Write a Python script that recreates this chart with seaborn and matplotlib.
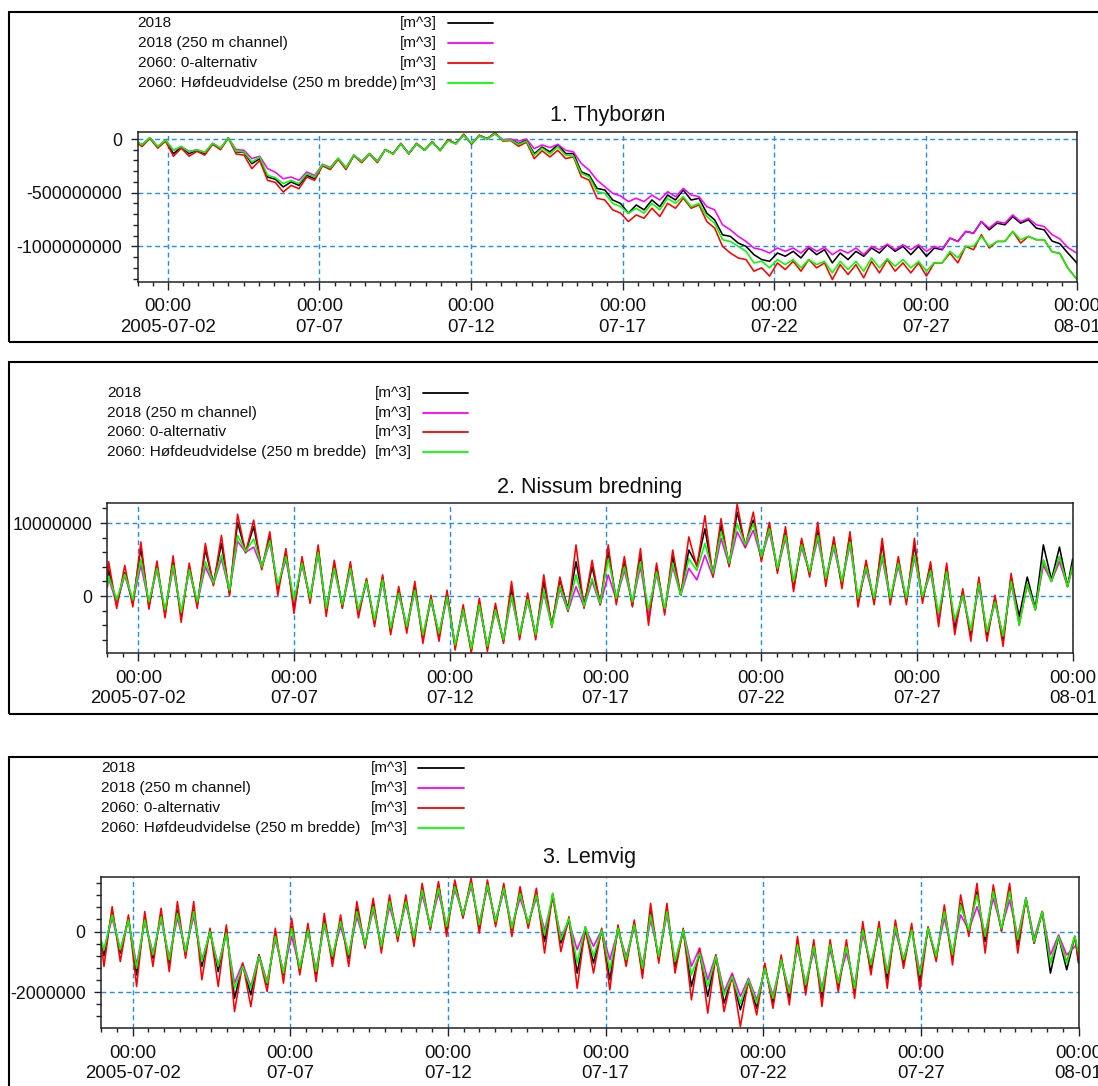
import numpy as np
import pandas as pd
import matplotlib
matplotlib.use("Agg")
import matplotlib.pyplot as plt
import matplotlib.dates as mdates
from matplotlib.lines import Line2D
from matplotlib.patches import Rectangle
from matplotlib.ticker import FixedLocator, FixedFormatter, MultipleLocator, FuncFormatter
import seaborn as sns

# ---------------------------------------------------------------------------
# Cumulative discharge volume [m^3] through three cross sections, July 2005.
# Each series: value at 07-01 00:00, then successive tidal extremes
# (spaced half a tidal period apart), then value at 08-01 00:00.
# Units below: million m^3.
# ---------------------------------------------------------------------------
SERIES_NAMES = ["2018", "2018 (250 m channel)", "2060: 0-alternativ",
                "2060: Høfdeudvidelse (250 m bredde)"]
SERIES_COLORS = ["#000000", "#ff00ff", "#ff0000", "#00ff00"]

# 1. Thyborøn (first extreme is a low, at 0.15 d)
thy_first = 0.15
thy_2018 = [-28,
    -59, 12, -75, -12, -137, -75, -137, -105, -137, -43,
    -90, 9, -121, -125, -230, -183, -354, -375, -447, -400,
    -432, -338, -370, -245, -276, -183, -276, -152, -214, -137,
    -214, -99, -137, -43, -137, -43, -105, -28, -105, -12,
    -43, 40, -43, 34, 3, 56, -12, -6, -43, -12,
    -137, -75, -120, -52, -136, -136, -306, -336, -460, -475,
    -568, -600, -691, -614, -660, -568, -630, -522, -568, -475,
    -568, -552, -691, -753, -892, -907, -969, -1000, -1077, -1123,
    -1139, -1062, -1092, -1046, -1108, -1015, -1077, -1031, -1154, -1062,
    -1123, -1046, -1092, -1015, -1062, -985, -1046, -1000, -1077, -1000,
    -1092, -1015, -1031, -923, -954, -861, -877, -769, -846, -784,
    -799, -722, -784, -753, -830, -846, -950, -975, -1060, -1140,
    -1165]
thy_2018_250 = [-28,
    -55, 12, -70, -10, -105, -70, -115, -100, -125, -40,
    -85, 9, -99, -105, -183, -160, -276, -310, -370, -354,
    -385, -307, -340, -235, -265, -180, -265, -150, -205, -135,
    -205, -99, -135, -45, -130, -45, -100, -30, -100, -15,
    -40, 35, -40, 25, 5, 45, -5, 0, -20, 0,
    -90, -55, -80, -50, -105, -120, -228, -290, -383, -444,
    -506, -530, -583, -552, -583, -522, -568, -491, -537, -460,
    -522, -537, -630, -660, -799, -846, -907, -954, -1015, -1031,
    -1062, -1015, -1046, -1015, -1062, -1000, -1046, -1010, -1077, -1031,
    -1062, -1015, -1077, -1000, -1031, -979, -1031, -985, -1031, -985,
    -1046, -1000, -1025, -923, -954, -861, -877, -769, -830, -769,
    -784, -707, -770, -738, -799, -815, -890, -930, -1010, -1055,
    -1065]
thy_2060_0 = [-40,
    -70, 5, -85, -20, -161, -85, -160, -115, -150, -50,
    -100, 9, -140, -150, -276, -200, -385, -405, -494, -432,
    -463, -354, -385, -250, -285, -190, -285, -155, -220, -140,
    -220, -100, -140, -40, -140, -40, -105, -25, -110, -5,
    -45, 45, -50, 35, 0, 60, -20, -15, -68, -30,
    -183, -110, -167, -105, -182, -167, -352, -383, -552, -568,
    -660, -690, -769, -707, -738, -645, -722, -599, -645, -552,
    -645, -614, -769, -830, -1000, -1062, -1108, -1123, -1231, -1200,
    -1277, -1154, -1216, -1139, -1231, -1123, -1200, -1154, -1309, -1170,
    -1262, -1170, -1293, -1139, -1247, -1123, -1231, -1154, -1247, -1154,
    -1277, -1154, -1154, -1062, -1154, -1000, -1031, -892, -1015, -954,
    -954, -861, -969, -907, -938, -938, -1050, -1065, -1200, -1290,
    -1310]
thy_2060_hofde = [-28,
    -55, 12, -70, -10, -105, -70, -120, -100, -125, -40,
    -85, 9, -115, -120, -214, -168, -338, -360, -416, -385,
    -416, -323, -354, -240, -270, -180, -270, -150, -210, -135,
    -210, -100, -140, -45, -135, -45, -105, -30, -105, -15,
    -45, 35, -40, 30, 0, 50, -12, -10, -50, -20,
    -152, -85, -140, -74, -151, -160, -321, -352, -491, -506,
    -599, -630, -691, -645, -691, -599, -660, -552, -599, -537,
    -630, -599, -722, -784, -938, -954, -1000, -1046, -1154, -1139,
    -1200, -1123, -1170, -1123, -1200, -1123, -1170, -1139, -1247, -1139,
    -1216, -1139, -1231, -1108, -1200, -1115, -1185, -1123, -1200, -1139,
    -1231, -1150, -1154, -1046, -1108, -1000, -1000, -907, -1000, -954,
    -954, -861, -938, -907, -938, -938, -1050, -1065, -1200, -1290,
    -1310]

# 2. Nissum bredning (first extreme is a high, at 0.043 d)
nis_first = 0.043
nis_2018 = [2.0,
    3.6, -1.2, 3.2, -1.0, 6.6, -1.4, 4.2, -2.5, 4.9, -2.8,
    4.0, -1.2, 6.4, 1.7, 7.2, 0.3, 10.1, 6.0, 9.5, 3.8,
    8.1, 0.8, 6.0, -1.7, 4.9, -0.5, 6.5, -2.1, 4.5, -1.5,
    4.2, -2.4, 2.2, -3.7, 2.6, -4.9, 0.8, -4.4, 1.5, -5.8,
    -0.3, -5.5, 0.4, -6.9, -1.7, -7.4, -0.8, -7.1, -1.5, -6.2,
    1.0, -5.5, -0.1, -5.5, 2.0, -4.0, 2.2, -1.7, 4.7, -1.2,
    4.0, -1.0, 6.0, -0.5, 4.7, -1.3, 5.6, -3.3, 4.0, -2.1,
    5.4, 0.1, 6.3, 4.2, 9.2, 2.9, 9.7, 4.2, 11.5, 6.9,
    10.4, 5.0, 9.7, 3.5, 9.0, 1.0, 7.6, 3.0, 9.0, 2.0,
    7.6, 1.5, 8.3, -1.0, 4.5, -0.8, 7.2, -0.8, 4.9, -0.8,
    7.0, -0.5, 4.2, -3.5, 4.0, -4.4, 0.6, -5.5, 2.2, -5.5,
    -0.3, -6.2, 2.6, -2.8, 2.6, -1.7, 7.0, 2.2, 6.7, 1.3,
    5.1]
nis_2018_250 = [1.2,
    2.4, -1.0, 2.8, -0.8, 4.2, -1.0, 3.6, -2.2, 3.8, -2.4,
    3.4, -1.0, 4.0, 1.6, 5.1, 0.6, 7.5, 6.0, 6.7, 3.9,
    7.3, 1.3, 5.0, -0.9, 4.2, -0.4, 5.7, -1.9, 3.6, -1.3,
    3.5, -2.2, 1.8, -3.6, 2.0, -4.6, 0.2, -4.3, 0.6, -5.6,
    -0.7, -5.3, -0.3, -6.8, -2.1, -7.3, -1.4, -7.0, -2.1, -6.0,
    -0.2, -5.3, -0.7, -5.3, 0.4, -4.1, 1.0, -2.1, 1.3, -1.5,
    2.0, -1.2, 2.9, -0.5, 3.5, -1.0, 4.0, -2.6, 3.0, -2.0,
    4.0, 0.1, 3.8, 2.2, 5.6, 2.6, 7.9, 4.2, 8.8, 6.6,
    9.0, 5.2, 8.8, 3.6, 7.9, 1.9, 6.6, 3.2, 7.8, 2.3,
    6.6, 1.8, 7.0, -0.5, 3.6, -0.6, 5.2, -0.6, 4.1, -0.6,
    5.3, -0.3, 3.2, -2.9, 3.0, -3.6, -0.1, -4.8, 1.3, -4.9,
    -1.0, -5.4, 1.6, -3.6, 1.5, -1.9, 4.2, 2.0, 4.7, 1.3,
    4.0]
nis_2060_0 = [2.5,
    4.7, -1.7, 4.2, -1.5, 7.4, -1.8, 4.8, -3.0, 5.5, -3.6,
    4.5, -1.7, 7.2, 1.4, 8.3, 0.0, 11.2, 5.9, 10.4, 3.6,
    8.8, 0.1, 6.5, -2.4, 5.4, -1.0, 7.0, -2.8, 4.9, -1.7,
    4.7, -3.0, 2.4, -4.2, 2.9, -5.3, 1.3, -5.1, 2.0, -6.5,
    0.1, -6.2, 0.8, -7.4, -1.2, -7.8, -0.3, -7.6, -1.0, -6.5,
    2.0, -6.0, 0.4, -6.0, 2.9, -4.3, 2.6, -2.1, 7.0, -1.7,
    4.9, -1.2, 7.0, -1.2, 5.4, -1.5, 6.5, -4.0, 4.5, -2.6,
    6.3, 0.1, 8.1, 4.0, 11.0, 2.6, 10.6, 4.0, 12.6, 6.7,
    11.5, 4.7, 10.1, 3.1, 9.5, 0.6, 7.9, 2.6, 10.1, 1.3,
    8.1, 1.0, 8.8, -1.5, 4.9, -1.2, 7.9, -1.2, 5.4, -1.2,
    7.9, -1.0, 4.7, -4.2, 4.5, -5.3, 1.0, -6.2, 2.6, -6.2,
    0.1, -6.9, 3.1, -4.0, 1.7, -1.9, 4.9, 2.0, 5.4, 1.3,
    4.2]
nis_2060_hofde = [1.3,
    2.7, -0.5, 3.0, -0.5, 5.0, -0.8, 3.8, -1.9, 4.2, -2.2,
    3.6, -0.8, 4.7, 1.8, 5.6, 0.8, 8.3, 6.1, 7.8, 4.0,
    7.6, 1.5, 5.4, -0.5, 4.5, -0.3, 6.0, -1.7, 3.8, -1.2,
    3.8, -1.9, 2.0, -3.3, 2.2, -4.4, 0.4, -4.2, 0.8, -5.3,
    -0.5, -5.1, -0.1, -6.7, -1.9, -7.2, -1.2, -6.9, -1.9, -6.0,
    0.1, -5.3, -0.5, -5.3, 0.8, -4.2, 1.3, -1.9, 2.9, -1.4,
    2.4, -1.0, 5.1, -0.3, 4.0, -0.8, 4.7, -1.9, 3.3, -1.7,
    4.5, 0.1, 5.1, 3.5, 7.2, 3.1, 8.8, 4.5, 9.9, 7.0,
    9.9, 5.4, 9.2, 3.8, 8.3, 2.0, 7.0, 3.3, 8.3, 2.4,
    7.0, 2.0, 7.4, -0.3, 4.0, -0.3, 5.6, -0.3, 4.5, -0.3,
    5.6, -0.1, 3.5, -2.4, 3.3, -3.3, 0.1, -4.7, 1.7, -4.9,
    -0.8, -5.5, 2.0, -4.0, 1.7, -1.9, 4.9, 2.0, 5.4, 1.3,
    4.2]

# 3. Lemvig (first extreme is a low, at 0.094 d)
lem_first = 0.094
lem_2018 = [-0.4, -0.8,
    0.66, -0.71, 0.44, -1.43, 0.44, -0.88, 0.55, -1.04, 0.71, -0.77,
    0.71, -1.15, 0.05, -1.32, 0.11, -2.2, -1.1, -2.09, -0.77, -1.76,
    -0.11, -1.43, 0.16, -1.32, 0.11, -1.43, 0.38, -0.93, 0.38, -0.88,
    0.77, -0.49, 0.93, -0.55, 1.04, -0.22, 1.04, -0.27, 1.43, 0.11,
    1.54, 0.05, 1.59, 0.49, 1.65, 0.11, 1.59, 0.27, 1.48, 0.05,
    1.32, 0.22, 1.26, -0.33, 1.21, -0.38, 0.38, -1.37, 0.05, -1.04,
    0.05, -1.59, 0.11, -0.99, 0.27, -1.37, 0.66, -0.93, 0.71, -1.15,
    0.05, -1.81, -0.71, -2.14, -0.82, -2.36, -1.48, -2.58, -1.65, -2.53,
    -1.15, -2.36, -0.88, -2.2, -0.38, -1.87, -0.44, -2.2, -0.38, -1.81,
    -0.44, -1.98, 0.11, -1.26, 0.16, -1.59, 0.22, -1.04, 0.11, -1.65,
    0.11, -0.88, 0.71, -0.88, 0.93, 0.0, 1.32, -0.33, 1.37, 0.05,
    1.37, -0.44, 1.1, -0.38, 0.66, -1.37, -0.16, -1.26,
    -0.16, -1.04]
lem_2018_250 = [-0.3, -0.6,
    0.44, -0.6, 0.38, -1.1, 0.33, -0.7, 0.4, -0.85, 0.44, -0.6,
    0.5, -0.93, -0.05, -1.1, -0.11, -1.70, -1.04, -1.81, -0.77, -1.65,
    -0.27, -1.32, -0.16, -1.2, 0.0, -1.25, 0.2, -0.8, 0.16, -0.75,
    0.49, -0.4, 0.71, -0.45, 0.82, -0.1, 0.9, -0.2, 1.21, 0.2,
    1.26, 0.2, 1.37, 0.6, 1.48, 0.3, 1.43, 0.38, 1.32, 0.15,
    1.1, 0.3, 1.1, 0.05, 1.1, -0.16, 0.33, -0.6, 0.11, -0.49,
    0.05, -0.93, 0.05, -0.82, 0.11, -1.1, 0.38, -0.8, 0.55, -0.99,
    0.05, -1.15, -0.55, -1.59, -0.77, -1.98, -1.37, -2.14, -1.54, -2.25,
    -1.26, -2.1, -0.99, -1.92, -0.55, -1.7, -0.66, -1.87, -0.6, -1.65,
    -0.71, -1.76, -0.11, -1.05, 0.0, -1.32, 0.0, -0.9, 0.05, -1.32,
    0.05, -0.8, 0.44, -0.71, 0.55, 0.05, 0.82, -0.05, 1.1, 0.11,
    1.04, -0.16, 1.1, -0.22, 0.66, -0.77, -0.11, -0.77,
    -0.49, -0.55]
lem_2060_0 = [-0.3, -1.15,
    0.82, -0.99, 0.55, -1.81, 0.66, -1.15, 0.77, -1.32, 0.99, -0.88,
    0.99, -1.59, 0.11, -1.81, 0.22, -2.64, -1.04, -2.47, -0.77, -1.98,
    0.11, -1.70, 0.44, -1.43, 0.27, -1.65, 0.6, -1.15, 0.55, -1.15,
    0.99, -0.55, 1.1, -0.71, 1.21, -0.33, 1.21, -0.49, 1.59, 0.05,
    1.65, -0.16, 1.70, 0.44, 1.76, -0.05, 1.70, 0.16, 1.59, -0.16,
    1.48, 0.11, 1.43, -0.71, 1.26, -0.66, 0.49, -1.87, 0.16, -1.37,
    0.11, -1.92, 0.22, -1.15, 0.38, -1.54, 0.93, -1.04, 0.93, -1.37,
    0.11, -2.25, -0.55, -2.69, -0.77, -2.64, -1.43, -3.13, -1.59, -2.75,
    -1.04, -2.53, -0.77, -2.42, -0.16, -2.09, -0.27, -2.47, -0.27, -1.98,
    -0.27, -2.2, 0.33, -1.43, 0.33, -1.87, 0.38, -1.21, 0.27, -1.92,
    0.16, -0.99, 0.88, -1.1, 1.21, -0.16, 1.59, -0.71, 1.54, 0.0,
    1.59, -0.71, 1.1, -0.38, 0.66, -1.04, -0.16, -1.0,
    -0.16, -0.95]
lem_2060_hofde = [-0.27, -0.6,
    0.55, -0.6, 0.38, -1.21, 0.38, -0.77, 0.49, -0.93, 0.6, -0.66,
    0.66, -0.99, 0.0, -1.15, -0.05, -1.87, -1.15, -1.87, -0.82, -1.70,
    -0.16, -1.37, 0.11, -1.21, 0.05, -1.32, 0.27, -0.82, 0.33, -0.77,
    0.66, -0.44, 0.82, -0.49, 0.99, -0.16, 0.99, -0.22, 1.37, 0.16,
    1.43, 0.16, 1.48, 0.55, 1.59, 0.22, 1.54, 0.33, 1.43, 0.11,
    1.26, 0.27, 1.21, -0.11, 1.26, -0.27, 0.44, -1.04, 0.16, -0.82,
    0.05, -1.26, 0.11, -0.93, 0.22, -1.21, 0.55, -0.82, 0.66, -0.99,
    0.05, -1.43, -0.71, -1.81, -0.82, -2.09, -1.48, -2.36, -1.59, -2.36,
    -1.21, -2.2, -0.93, -2.03, -0.44, -1.76, -0.49, -1.98, -0.44, -1.70,
    -0.49, -1.87, 0.05, -1.1, 0.11, -1.37, 0.16, -0.93, 0.05, -1.43,
    0.11, -0.82, 0.66, -0.77, 0.88, 0.05, 1.21, -0.16, 1.32, 0.1,
    1.32, -0.27, 1.1, -0.33, 0.66, -1.04, -0.16, -1.04,
    -0.16, -0.71]

TICK_DATES = ["2005-07-02", "2005-07-07", "2005-07-12", "2005-07-17",
              "2005-07-22", "2005-07-27", "2005-08-01"]
TICK_LABELS = ["00:00\n2005-07-02", "00:00\n07-07", "00:00\n07-12",
               "00:00\n07-17", "00:00\n07-22", "00:00\n07-27", "00:00\n08-01"]

START = pd.Timestamp("2005-07-01 00:00")
END = pd.Timestamp("2005-08-01 00:00")
HALF_TIDE_DAYS = 12.42 / 24 / 2
SCALE = 1e6


def long_frame(series_lists, first_extreme):
    frames = []
    span = (END - START) / pd.Timedelta(days=1)
    for name, vals in zip(SERIES_NAMES, series_lists):
        n = len(vals) - 2
        days = np.concatenate([[0.0], first_extreme + HALF_TIDE_DAYS * np.arange(n), [span]])
        frames.append(pd.DataFrame({
            "time": START + pd.to_timedelta(days, unit="D"),
            "value": np.asarray(vals, dtype=float) * SCALE,
            "series": name,
        }))
    return pd.concat(frames, ignore_index=True)


panels = [
    dict(title="1. Thyborøn",
         data=long_frame([thy_2018, thy_2018_250, thy_2060_0, thy_2060_hofde], thy_first),
         box=(8.8, 11.6, 1110, 341.7), axes=(137.5, 131.7, 1077.3, 281.7),
         title_y=116, leg_rows=(23.2, 43.0, 62.8, 82.6), leg_unit_x=400, leg_line=(448, 493),
         ylim=(-1329e6, 68e6), ymajor=[0, -500e6, -1000e6], yminor=100e6),
    dict(title="2. Nissum bredning",
         data=long_frame([nis_2018, nis_2018_250, nis_2060_0, nis_2060_hofde], nis_first),
         box=(8.8, 362, 1110, 714), axes=(107.3, 503.3, 1072.7, 653.3),
         title_y=488, leg_rows=(393.0, 412.7, 432.4, 452.1), leg_unit_x=375, leg_line=(423, 468),
         ylim=(-7.85e6, 12.7e6), ymajor=[0, 10e6], yminor=2e6),
    dict(title="3. Lemvig",
         data=long_frame([lem_2018, lem_2018_250, lem_2060_0, lem_2060_hofde], lem_first),
         box=(8.8, 756.7, 1110, 1100), axes=(101.0, 877.3, 1078.5, 1028.3),
         title_y=858, leg_rows=(768.3, 788.3, 807.7, 827.7), leg_unit_x=371, leg_line=(418, 464),
         ylim=(-3.19e6, 1.79e6), ymajor=[0, -2e6], yminor=0.4e6),
]

sns.set_theme(style="white")
plt.rcParams["font.family"] = ["Liberation Sans", "DejaVu Sans"]
plt.rcParams["axes.unicode_minus"] = False

W, H = 1098, 1086
fig = plt.figure(figsize=(W / 100, H / 100), dpi=100)
fig.patch.set_facecolor("white")

GRID_COLOR = "#1e8cff"
TEXT_COLOR = "#111111"


def fx(x):
    return x / W


def fy(y):
    return 1 - y / H


for p in panels:
    # outer frame of the panel
    bx0, by0, bx1, by1 = p["box"]
    fig.add_artist(Rectangle((fx(bx0), fy(by1)), fx(bx1) - fx(bx0), fy(by0) - fy(by1),
                             transform=fig.transFigure, fill=False, edgecolor="black",
                             linewidth=1.5, clip_on=False))

    l, t, r, b = p["axes"]
    ax = fig.add_axes([fx(l), fy(b), (r - l) / W, (b - t) / H])
    sns.lineplot(data=p["data"], x="time", y="value", hue="series",
                 hue_order=SERIES_NAMES, palette=SERIES_COLORS,
                 estimator=None, sort=False, linewidth=1.15, legend=False, ax=ax,
                 solid_joinstyle="round")

    ax.set_xlim(START, END)
    ax.set_ylim(*p["ylim"])
    ax.set_xlabel("")
    ax.set_ylabel("")

    ax.xaxis.set_major_locator(FixedLocator(mdates.date2num(pd.to_datetime(TICK_DATES))))
    ax.xaxis.set_major_formatter(FixedFormatter(TICK_LABELS))
    ax.xaxis.set_minor_locator(mdates.HourLocator(byhour=[0, 12]))
    ax.yaxis.set_major_locator(FixedLocator(p["ymajor"]))
    ax.yaxis.set_major_formatter(FuncFormatter(lambda v, pos: "%d" % round(v)))
    ax.yaxis.set_minor_locator(MultipleLocator(p["yminor"]))

    for spine in ax.spines.values():
        spine.set_linewidth(1.1)
        spine.set_color("#222222")
    ax.tick_params(axis="y", which="major", direction="out", length=5.0, width=1.0,
                   color="#222222", labelsize=12.8, labelcolor=TEXT_COLOR, pad=6,
                   left=True)
    ax.tick_params(axis="y", which="minor", direction="out", length=3.6, width=1.0,
                   color="#222222", left=True)
    ax.tick_params(axis="x", which="major", direction="out", length=5.5, width=1.0,
                   color="#222222", labelsize=13.4, labelcolor=TEXT_COLOR, pad=6.5,
                   bottom=True)
    ax.tick_params(axis="x", which="minor", direction="out", length=3.1, width=1.0,
                   color="#222222", bottom=True)
    for lab in ax.get_xticklabels():
        lab.set_linespacing(1.25)

    ax.grid(True, which="major", axis="both", color=GRID_COLOR, linewidth=1.0,
            linestyle=(0, (3.5, 2.5)))
    ax.set_axisbelow(True)

    # title above the plotting area
    fig.text(fx((l + r) / 2), fy(p["title_y"]), p["title"], ha="center", va="center",
             fontsize=15.5, color=TEXT_COLOR)

    # legend block: name, unit and line sample per series
    x0, x1 = p["leg_line"]
    for name, color, ry in zip(SERIES_NAMES, SERIES_COLORS, p["leg_rows"]):
        fig.text(fx(l), fy(ry), name, ha="left", va="center", fontsize=11.1, color=TEXT_COLOR)
        fig.text(fx(p["leg_unit_x"]), fy(ry), "[m^3]", ha="left", va="center",
                 fontsize=11.1, color=TEXT_COLOR)
        fig.add_artist(Line2D([fx(x0), fx(x1)], [fy(ry), fy(ry)], transform=fig.transFigure,
                              color=color, linewidth=1.3))

fig.savefig("out.png", dpi=100, facecolor="white")
